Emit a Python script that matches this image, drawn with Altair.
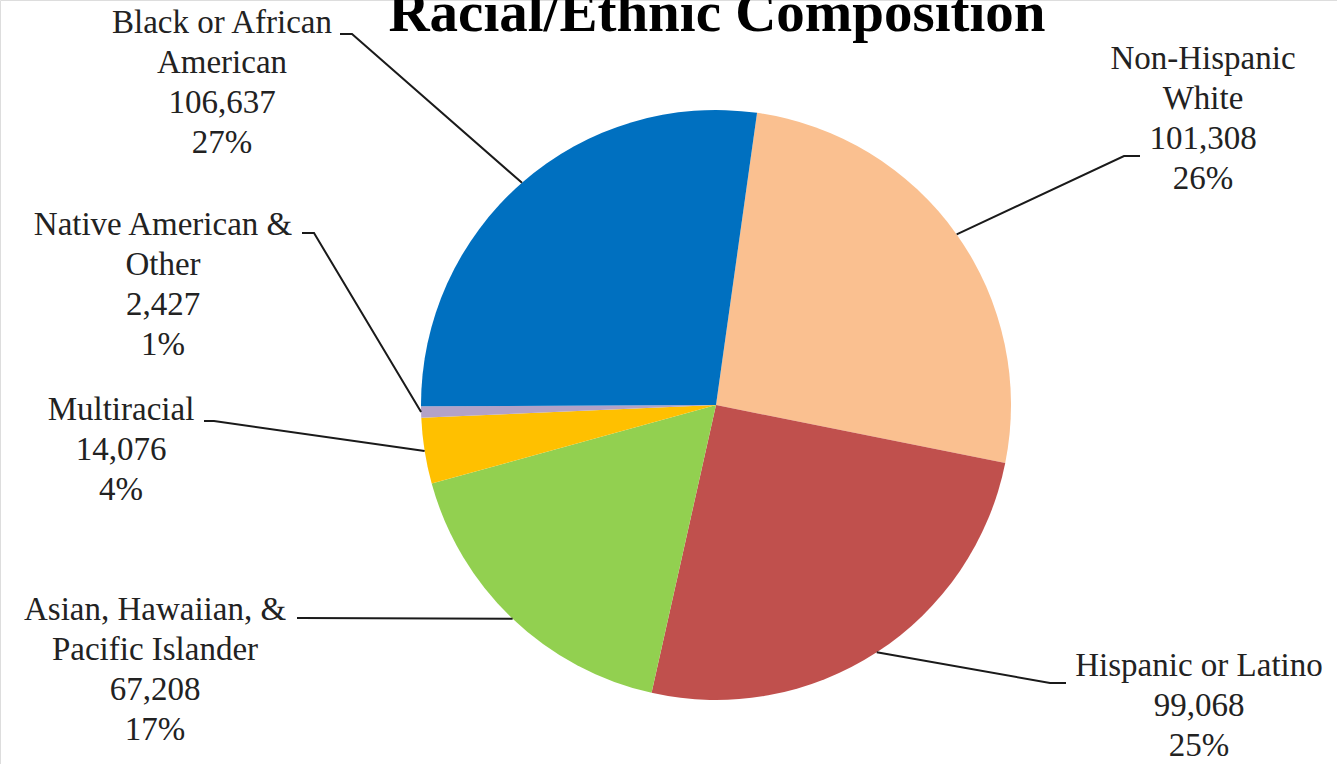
import math
import altair as alt
import pandas as pd

# ---- data ----
names = ["Non-Hispanic White", "Hispanic or Latino", "Asian, Hawaiian, & Pacific Islander",
         "Multiracial", "Native American & Other", "Black or African American"]
values = [101308, 99068, 67208, 14076, 2427, 106637]
label_names = [["Non-Hispanic", "White"], ["Hispanic or Latino"], ["Asian, Hawaiian, &", "Pacific Islander"],
               ["Multiracial"], ["Native American &", "Other"], ["Black or African", "American"]]
colors = ["#FAC090", "#C0504D", "#92D050", "#FFC000", "#B3A2C7", "#0070C0"]
title_text = "Racial/Ethnic Composition"

# ---- layout (pixels) ----
W, H = 1337, 764
CX, CY, R = 716, 405, 295
START_DEG = 8.0
FONT = "Liberation Serif"
FS = 33
LH = 40
# label block: centre x, first line y (middle)
label_pos = [(1203, 59), (1199, 666), (155, 610), (121, 410), (163, 225), (222, 23)]
# leader: elbow point, end point next to the text
leader_pts = [((1124, 156), (1140, 156)), ((1050, 683), (1066, 683)), ((300, 618), (297, 618)),
              ((214, 421), (204, 421)), ((314, 233), (302, 233)), ((352, 34), (340, 34))]

total = sum(values)
pie_df = pd.DataFrame({"name": names, "value": values, "idx": list(range(len(names)))})

rows = []
line_rows = []
cum = 0.0
for i, (nm, v) in enumerate(zip(names, values)):
    lines = label_names[i] + [f"{v:,}", f"{round(v / total * 100)}%"]
    cx, y0 = label_pos[i]
    for j, t in enumerate(lines):
        rows.append({"text": t, "x": cx, "y": y0 + j * LH})
    mid = math.radians(START_DEG + (cum + v / 2) / total * 360)
    cum += v
    ex, ey = CX + R * math.sin(mid), CY - R * math.cos(mid)
    (bx, by), (tx, ty) = leader_pts[i]
    for k, (px, py) in enumerate([(ex, ey), (bx, by), (tx, ty)]):
        line_rows.append({"g": nm, "k": k, "x": px, "y": py})

text_df = pd.DataFrame(rows)
line_df = pd.DataFrame(line_rows)

xs = alt.Scale(domain=[0, W], range=[0, W])
ys = alt.Scale(domain=[0, H], range=[0, H])

start = math.radians(START_DEG)
pie = alt.Chart(pie_df).mark_arc(outerRadius=R).encode(
    theta=alt.Theta("value:Q", stack=True, scale=alt.Scale(range=[start, start + 2 * math.pi])),
    color=alt.Color("name:N", scale=alt.Scale(domain=names, range=colors), legend=None),
    order=alt.Order("idx:Q"),
    x=alt.value(CX),
    y=alt.value(CY),
)

leaders = alt.Chart(line_df).mark_line(color="#1a1a1a", strokeWidth=2).encode(
    x=alt.X("x:Q", scale=xs, axis=None),
    y=alt.Y("y:Q", scale=ys, axis=None),
    detail="g:N",
    order="k:Q",
)

labels = alt.Chart(text_df).mark_text(font=FONT, fontSize=FS, color="#222222",
                                      align="center", baseline="middle").encode(
    x=alt.X("x:Q", scale=xs, axis=None),
    y=alt.Y("y:Q", scale=ys, axis=None),
    text="text:N",
)

title = alt.Chart(pd.DataFrame({"t": [title_text]})).mark_text(
    font=FONT, fontSize=57, fontWeight="bold", color="#000000", align="center", baseline="alphabetic"
).encode(x=alt.value(717), y=alt.value(31), text="t:N")

chart = alt.layer(pie, leaders, labels, title).properties(
    width=W, height=H, autosize=alt.AutoSizeParams(type="none"), padding=0
).configure_view(strokeWidth=0).configure(background="white")

chart.save("out.html", embed_options={"renderer": "svg", "actions": False})
